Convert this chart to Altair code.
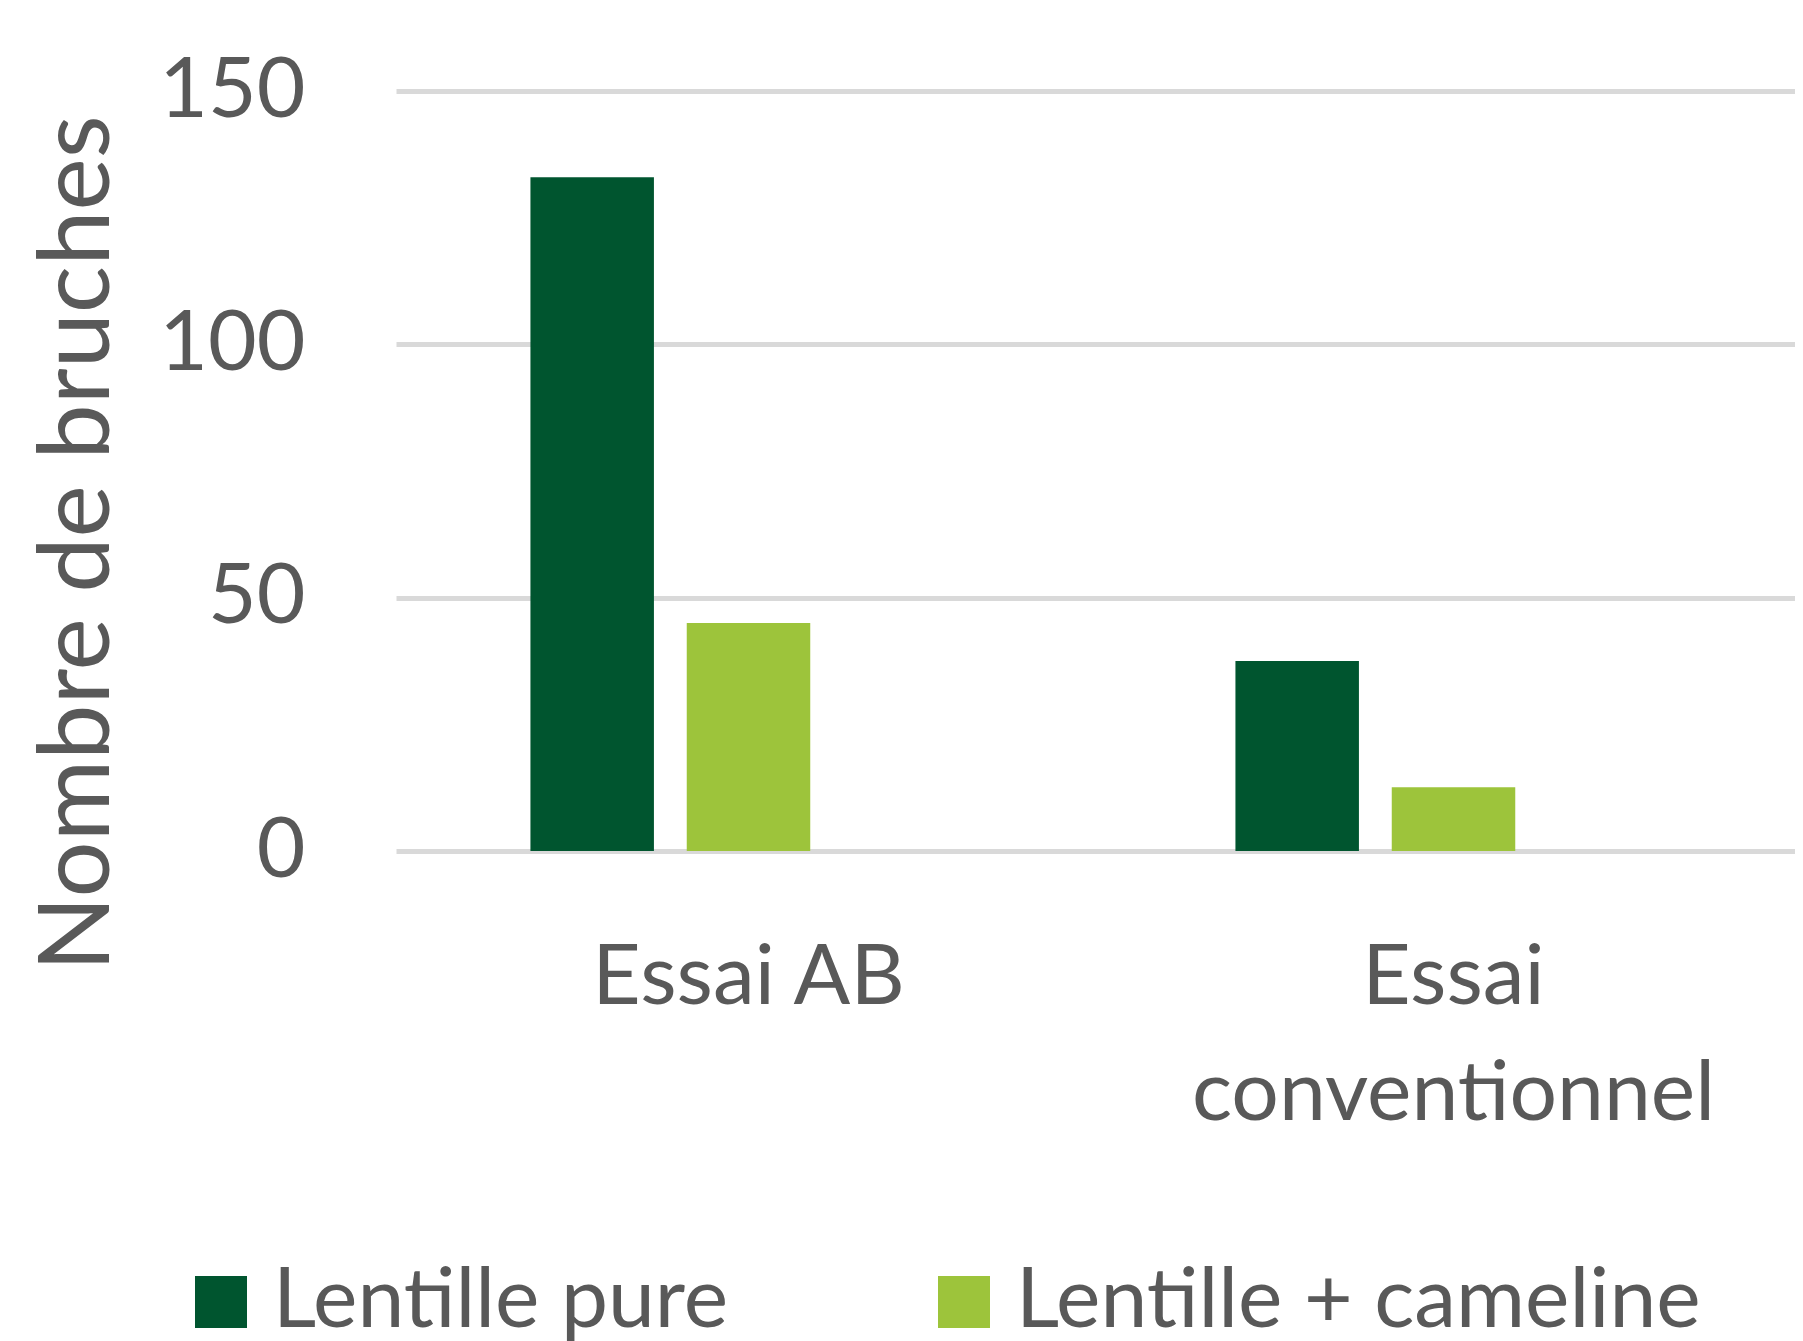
import altair as alt
import pandas as pd

categories = ["Essai AB", "Essai conventionnel"]
series = ["Lentille pure", "Lentille + cameline"]
lentille_pure = [133, 37.5]
lentille_cameline = [45, 12.6]
colors = ["#00552F", "#9DC43B"]
y_ticks = [0, 50, 100, 150]

rows = []
for i, c in enumerate(categories):
    rows.append({"essai": c, "serie": series[0], "n": lentille_pure[i]})
    rows.append({"essai": c, "serie": series[1], "n": lentille_cameline[i]})
df = pd.DataFrame(rows)

# the original chart keeps an empty third slot in each group
offset_domain = series + [" "]

font = "Lato"
grey = "#595959"

chart = alt.Chart(df).mark_bar().encode(
    x=alt.X(
        "essai:N",
        sort=categories,
        scale=alt.Scale(domain=categories, paddingInner=0, paddingOuter=0, range=[0, 1410]),
        axis=alt.Axis(
            title=None,
            labelExpr="datum.label == 'Essai conventionnel' ? ['Essai', 'conventionnel'] : datum.label",
            labelAngle=0,
            labelFont=font,
            labelFontSize=84,
            labelLineHeight=116,
            labelPadding=152,
            labelBaseline="alphabetic",
            labelColor=grey,
            labelLimit=0,
            ticks=False,
            tickSize=0,
            domain=False,
            grid=False,
        ),
    ),
    xOffset=alt.XOffset(
        "serie:N",
        scale=alt.Scale(domain=offset_domain, paddingInner=0.21, paddingOuter=0.86),
    ),
    y=alt.Y(
        "n:Q",
        scale=alt.Scale(domain=[0, 150], nice=False),
        axis=alt.Axis(
            values=y_ticks,
            title="Nombre de bruches",
            titleFont=font,
            titleFontSize=99,
            titleFontWeight="normal",
            titleColor=grey,
            titleAngle=270,
            titleAlign="center",
            titleBaseline="alphabetic",
            titleX=-288,
            titleY=452,
            labelFont=font,
            labelFontSize=84,
            labelColor=grey,
            labelPadding=91,
            labelBaseline="middle",
            ticks=False,
            tickSize=0,
            domain=False,
            grid=True,
            gridColor="#D9D9D9",
            gridWidth=5,
        ),
    ),
    color=alt.Color(
        "serie:N",
        scale=alt.Scale(domain=series, range=colors),
        legend=alt.Legend(
            title=None,
            orient="none",
            legendX=-217,
            legendY=1169,
            direction="horizontal",
            symbolType="square",
            symbolSize=2704,
            symbolStrokeWidth=0,
            symbolOpacity=1,
            labelFont=font,
            labelFontSize=84,
            labelColor=grey,
            labelOffset=10,
            labelLimit=0,
            columnPadding=193,
            padding=0,
        ),
    ),
).properties(
    width=1399,
    height=760,
    autosize=alt.AutoSizeParams(type="none"),
    padding={"left": 388, "top": 83, "right": 0, "bottom": 490},
    background="white",
).configure_view(stroke=None)

chart.save("out.html", embed_options={"renderer": "svg", "actions": False})
